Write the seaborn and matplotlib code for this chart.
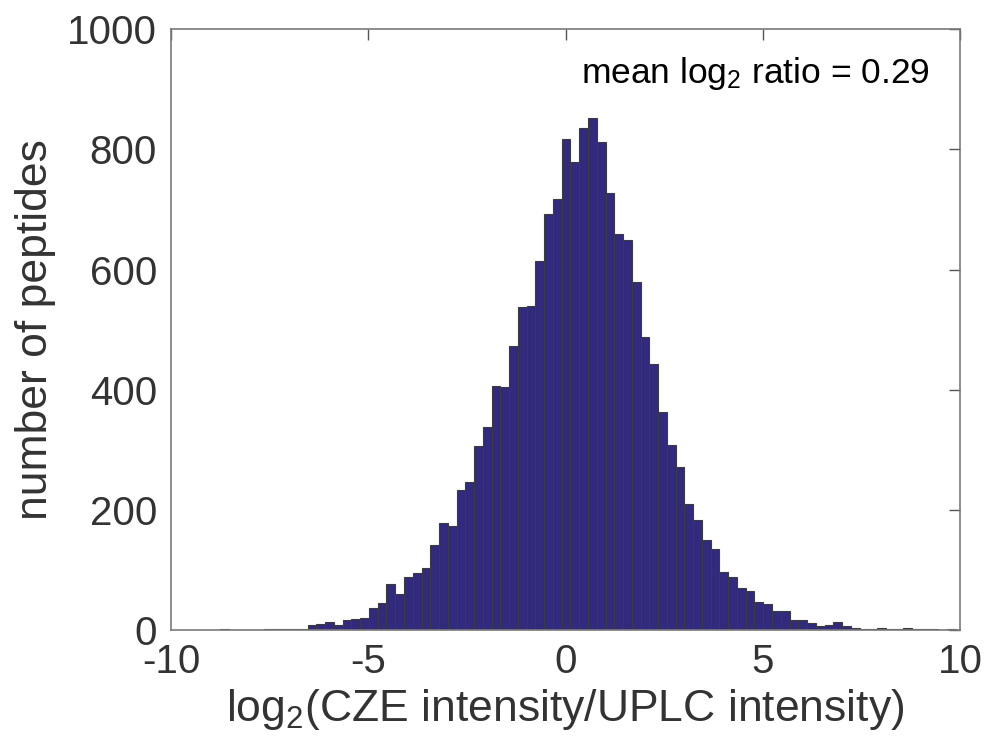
import numpy as np
import pandas as pd
import matplotlib
matplotlib.use("Agg")
import matplotlib.pyplot as plt
import seaborn as sns

# ---- data ----
bin_start = -8.758      # left edge of first bin (log2 ratio)
bin_width = 0.2221      # bin width (log2 ratio)
counts = [
    1, 0, 0, 0, 0, 1, 1, 2, 1, 2,
    9, 10, 14, 8, 17, 18, 20, 37, 45, 76, 60,
    89, 95, 104, 141, 178, 173, 233, 247, 306, 338,
    406, 405, 473, 537, 539, 615, 693, 718, 818, 779,
    835, 852, 812, 728, 660, 649, 579, 487, 442, 363,
    308, 272, 209, 183, 150, 135, 97, 88, 70,
    65, 47, 44, 32, 31, 17, 17, 11, 7, 9, 13, 7, 4,
    1, 1, 4, 1, 1, 3, 1, 2, 1, 0, 2,
]
x_ticks = [-10, -5, 0, 5, 10]
y_ticks = [0, 200, 400, 600, 800, 1000]
mean_ratio = 0.29

edges = [float(e) for e in bin_start + bin_width * np.arange(len(counts) + 1)]
centers = [(a + b) / 2 for a, b in zip(edges[:-1], edges[1:])]
df = pd.DataFrame({"log2_ratio": centers, "n": counts})

sns.set_theme(style="white")
plt.rcParams["font.family"] = ["Liberation Sans", "DejaVu Sans"]
plt.rcParams["mathtext.fontset"] = "custom"
plt.rcParams["mathtext.rm"] = "Liberation Sans"
plt.rcParams["mathtext.it"] = "Liberation Sans"

fig = plt.figure(figsize=(9.89, 7.49), dpi=100)
ax = fig.add_axes([0.1729, 0.1589, 0.7978, 0.8020])

sns.histplot(data=df, x="log2_ratio", weights="n", bins=edges, ax=ax,
             color="#312a7e", edgecolor="#3c3c3c", linewidth=0.8, alpha=1.0)

ax.set_xlim(-10, 10)
ax.set_ylim(0, 1000)
ax.set_xticks(x_ticks)
ax.set_yticks(y_ticks)
ax.set_xticklabels([f"{t:g}" if t >= 0 else f"-{abs(t):g}" for t in x_ticks])

tick_col = "#333333"
ax.tick_params(axis="both", direction="in", length=8, width=1.0,
               color="#555555", labelsize=29, labelcolor=tick_col,
               top=True, right=True)
ax.tick_params(axis="x", pad=9.5)
ax.tick_params(axis="y", pad=10)
for s in ax.spines.values():
    s.set_visible(True)
    s.set_color("#7a7a7a")
    s.set_linewidth(1.2)

ax.set_xlabel(r"log$_2$(CZE intensity/UPLC intensity)", fontsize=32,
              color=tick_col, labelpad=4)
ax.set_ylabel("number of peptides", fontsize=32, color=tick_col, labelpad=8)

ax.text(0.962, 0.9106, f"mean log$_2$ ratio = {mean_ratio:.2f}",
        transform=ax.transAxes, ha="right", va="baseline",
        fontsize=25.5, color="black")

fig.savefig("out.png", dpi=100)
